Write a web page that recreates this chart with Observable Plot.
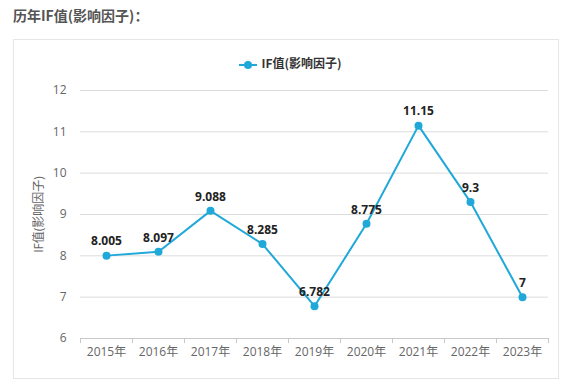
<!DOCTYPE html>
<html>
<head>
<meta charset="utf-8">
<script src="https://cdn.jsdelivr.net/npm/d3@7"></script>
<script src="https://cdn.jsdelivr.net/npm/@observablehq/plot@0.6"></script>
<style>
  html, body { margin: 0; padding: 0; background: #fff; }
  body { width: 581px; height: 385px; position: relative; overflow: hidden;
         font-family: "Open Sans", "Noto Sans CJK SC", sans-serif; }
  #title { position: absolute; left: 13px; top: 5px; font-size: 14px; font-weight: bold; color: #555;
           font-family: "Noto Sans CJK SC", sans-serif; }
  #box { position: absolute; left: 13px; top: 39px; width: 544px; height: 338px; border: 1px solid #e6e6e6; }
  #legend { position: absolute; left: 0; top: 54px; width: 581px; text-align: center; font-size: 12px;
            color: #333; font-weight: bold; font-family: "Noto Sans CJK SC", sans-serif; }
  #legend svg { vertical-align: middle; margin-right: 4px; }
  #chart { position: absolute; left: 0; top: 0; }
</style>
</head>
<body>
<div id="title">历年IF值(影响因子)：</div>
<div id="box"></div>
<div id="legend"><svg width="18" height="10"><line x1="0" y1="5" x2="18" y2="5" stroke="#1fa8d8" stroke-width="2"/><circle cx="9" cy="5" r="4" fill="#1fa8d8"/></svg>IF值(影响因子)</div>
<div id="chart"></div>
<script>
const years = ["2015年","2016年","2017年","2018年","2019年","2020年","2021年","2022年","2023年"];
const values = [8.005, 8.097, 9.088, 8.285, 6.782, 8.775, 11.15, 9.3, 7];
const valueLabels = ["8.005","8.097","9.088","8.285","6.782","8.775","11.15","9.3","7"];
const yTicks = [6, 7, 8, 9, 10, 11, 12];
const yLabel = "IF值(影响因子)";
const color = "#1fa8d8";

const data = years.map((y, i) => ({year: y, pos: i + 0.5, value: values[i], label: valueLabels[i]}));

const chart = Plot.plot({
  width: 581,
  height: 385,
  marginLeft: 80,
  marginRight: 33,
  marginTop: 90,
  marginBottom: 47,
  style: {background: "transparent", fontFamily: "'Open Sans', 'Noto Sans CJK SC', sans-serif", fontSize: "12px"},
  x: {type: "linear", domain: [0, years.length]},
  y: {domain: [6, 12]},
  marks: [
    Plot.gridY(yTicks, {stroke: "#dcdcdc", strokeOpacity: 1}),
    Plot.ruleY([6], {stroke: "#c8c8c8"}),
    Plot.axisY({ticks: yTicks, tickFormat: d3.format("d"), tickSize: 0, tickPadding: 14, fill: "#666", fontSize: 12,
                label: yLabel, labelAnchor: "center", labelArrow: "none", labelOffset: 46}),
    Plot.axisX({ticks: d3.range(years.length + 1), tickFormat: () => "", tickSize: 5, stroke: "#c8c8c8", label: null}),
    Plot.axisX({ticks: data.map(d => d.pos), tickFormat: (t) => years[Math.round(t - 0.5)], tickSize: 0, tickPadding: 9, fill: "#666", fontSize: 12, label: null}),
    Plot.line(data, {x: "pos", y: "value", stroke: color, strokeWidth: 2}),
    Plot.dot(data, {x: "pos", y: "value", fill: color, r: 4}),
    Plot.text(data, {x: "pos", y: "value", text: "label", dy: -14, fill: "#222", fontWeight: "bold", fontSize: 12})
  ]
});
document.getElementById("chart").appendChild(chart);
</script>
</body>
</html>
